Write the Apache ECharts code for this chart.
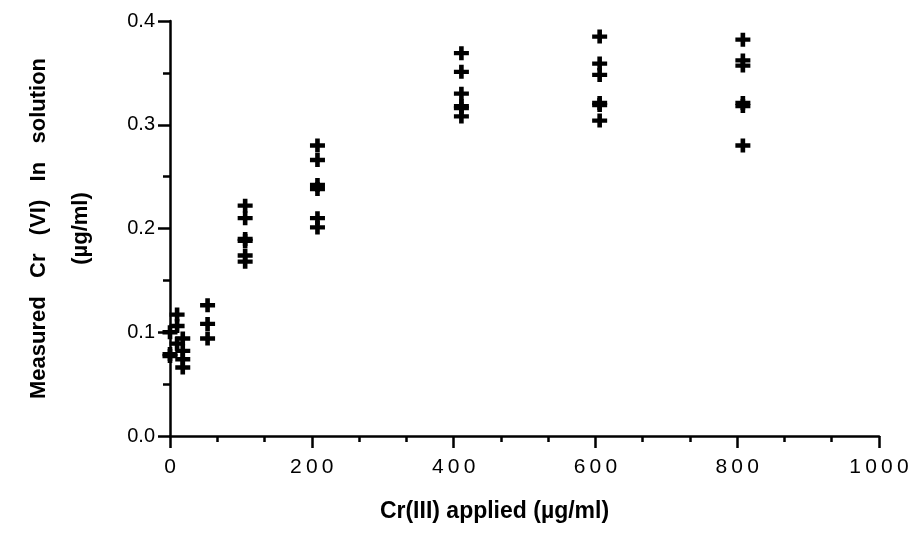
<!DOCTYPE html>
<html>
<head>
<meta charset="utf-8">
<script src="https://cdn.jsdelivr.net/npm/echarts@6/dist/echarts.min.js"></script>
<style>
  html, body { margin: 0; padding: 0; background: #fff; }
  #chart { width: 916px; height: 541px; }
</style>
</head>
<body>
<div id="chart"></div>
<script>
// Cr(III) applied (x) and the replicate Cr(VI) readings (y) at each level
const appliedLevels = [0, 10, 18, 53, 106, 208, 411, 606, 808];
const at0   = [0.100, 0.079, 0.077];
const at10  = [0.117, 0.106, 0.089];
const at18  = [0.094, 0.082, 0.074, 0.066];
const at53  = [0.126, 0.108, 0.094];
const at106 = [0.222, 0.210, 0.190, 0.188, 0.174, 0.168];
const at208 = [0.280, 0.266, 0.242, 0.238, 0.210, 0.201];
const at411 = [0.369, 0.351, 0.330, 0.318, 0.316, 0.308];
const at606 = [0.385, 0.359, 0.348, 0.321, 0.319, 0.304];
const at808 = [0.382, 0.362, 0.357, 0.321, 0.318, 0.280];
const readings = [at0, at10, at18, at53, at106, at208, at411, at606, at808];

const xTitle = 'Cr(III) applied (\u00b5g/ml)';
const yTitle = 'Measured   Cr   (VI)   In   solution\n(\u00b5g/ml)';

const points = [];
appliedLevels.forEach((x, i) => {
    readings[i].forEach(y => points.push([x, y]));
});

const plus = 'path://M0,4.5H4.5V0H8.5V4.5H13V8.5H8.5V13H4.5V8.5H0Z';
const ink = '#000';
const font = '"Liberation Sans", Arial, sans-serif';

var chart = echarts.init(document.getElementById('chart'));
chart.setOption({
    backgroundColor: '#fff',
    animation: false,
    grid: { left: 170, right: 37, top: 21, bottom: 105 },
    xAxis: {
        type: 'value',
        min: 0, max: 1000, interval: 200,
        splitLine: { show: false },
        axisLine: { lineStyle: { color: ink, width: 2.5 } },
        axisTick: { length: 12, lineStyle: { color: ink, width: 2.5 } },
        minorTick: { show: true, splitNumber: 3, length: 6, lineStyle: { color: ink, width: 2.5 } },
        axisLabel: {
            margin: 21, fontSize: 21, color: ink, fontFamily: font,
            formatter: v => String(v).split('').join('\u2009')
        },
        name: xTitle,
        nameLocation: 'middle',
        nameGap: 64,
        nameTextStyle: { fontSize: 23, fontWeight: 'bold', color: ink, fontFamily: font, padding: [0, 60, 0, 0] }
    },
    yAxis: {
        type: 'value',
        min: 0, max: 0.4, interval: 0.1,
        splitLine: { show: false },
        axisLine: { lineStyle: { color: ink, width: 2.5 } },
        axisTick: { length: 12, lineStyle: { color: ink, width: 2.5 } },
        minorTick: { show: true, splitNumber: 2, length: 7, lineStyle: { color: ink, width: 2.5 } },
        axisLabel: {
            margin: 15, fontSize: 20, color: ink, fontFamily: font,
            formatter: v => v.toFixed(1)
        },
        name: yTitle,
        nameLocation: 'middle',
        nameRotate: 90,
        nameGap: 68,
        nameTextStyle: { fontSize: 22, fontWeight: 'bold', color: ink, fontFamily: font, lineHeight: 42 }
    },
    series: [{
        type: 'scatter',
        data: points,
        symbol: plus,
        symbolSize: [15, 14],
        itemStyle: { color: ink, opacity: 1 }
    }]
});
</script>
</body>
</html>
